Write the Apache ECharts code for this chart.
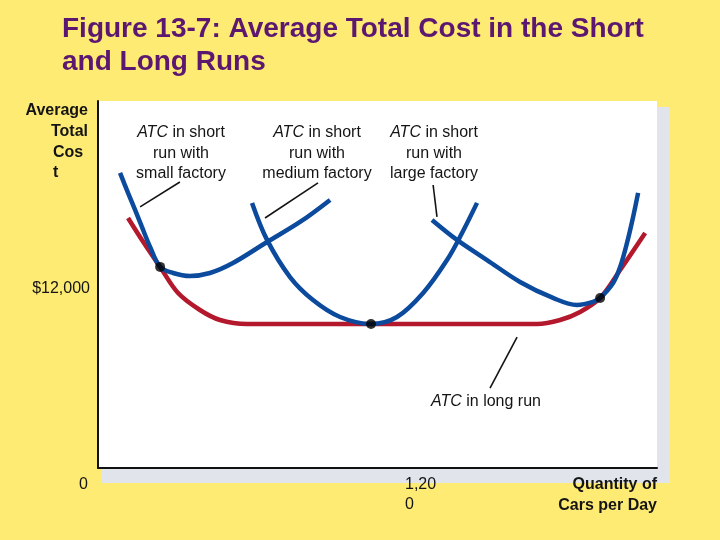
<!DOCTYPE html>
<html><head><meta charset="utf-8">
<script src="https://cdn.jsdelivr.net/npm/echarts@6/dist/echarts.min.js"></script>
<style>html,body{margin:0;padding:0;background:#feeb74}#c{width:720px;height:540px}</style>
</head><body><div id="c"></div>
<script>
const titleText = 'Figure 13-7: Average Total Cost in the Short\nand Long Runs';
const smallATC = [[97,19780],[132,18440],[163,17300],[193,16160],[229,14820],[273,13480],[330,13070],[404,12870],[492,13070],[593,13740],[743,15150],[888,16490],[1020,17970]];
const mediumATC = [[677,17770],[743,15290],[844,12800],[945,11260],[1064,10120],[1200,9650],[1314,10120],[1429,11730],[1534,13940],[1600,15750],[1666,17770]];
const largeATC = [[1468,16630],[1578,15290],[1710,13940],[1855,12470],[2000,11400],[2105,10930],[2176,11130],[2207,11400],[2264,12400],[2295,13480],[2325,15080],[2352,16830],[2374,18440]];
const longATC = [[132,16760],[202,15080],[273,13480],[352,11730],[448,10590],[536,9920],[655,9650],[1930,9650],[2031,9920],[2119,10460],[2207,11400],[2295,13270],[2405,15750]];
const tangencyPoints = [[273,13480],[1200,9650],[2207,11400]];
const leaderLines = [
  [[185,17500],[360,19170]],
  [[734,16760],[967,19110]],
  [[1473,18970],[1490,16830]],
  [[1842,8780],[1723,5360]]
];
const xTickValues = [1200];
const xTickLabels = ['1,20\n0'];
const yTickValues = [0, 12000];
const yTickLabels = ['0', '$12,000'];
const yAxisTitleLines = ['Average', 'Total', 'Cos', 't'];
const xAxisTitleLines = ['Quantity of', 'Cars per Day'];
const curveLabels = [
  '{i|ATC} in short\nrun with\nsmall factory',
  '{i|ATC} in short\nrun with\nmedium factory',
  '{i|ATC} in short\nrun with\nlarge factory',
  '{i|ATC} in long run'
];

const FF = '"Liberation Sans", Arial, Helvetica, sans-serif';
const BLUE = '#0b4a9c', RED = '#b3182c', INK = '#141414';

const chart = echarts.init(document.getElementById('c'), null, {renderer: 'canvas'});

const richI = {i: {fontStyle: 'italic', fontSize: 16, fontFamily: FF, fill: INK, lineHeight: 20.5}};
function txt(text, x, y, align, opts) {
  return {
    type: 'text', z: 10,
    style: Object.assign({
      text: text, x: x, y: y, fill: INK, fontSize: 16, fontFamily: FF,
      align: align, textAlign: align, verticalAlign: 'middle', textVerticalAlign: 'middle'
    }, opts || {})
  };
}

const yTitleX = [88, 88, 53, 53];
const yTitleAlign = ['right', 'right', 'left', 'left'];
const yTitleY = [111, 132, 153, 173];
const labelPos = [[181, 122.75], [317, 122.75], [434, 122.75], [486, 391]];

const graphics = [
  {type: 'rect', z: -2, shape: {x: 102, y: 107, width: 568, height: 376}, style: {fill: '#e1e4ea'}},
  {type: 'rect', z: -1, shape: {x: 98, y: 101, width: 559, height: 367}, style: {fill: '#ffffff'}}
];
yAxisTitleLines.forEach((t, i) => graphics.push(txt(t, yTitleX[i], yTitleY[i], yTitleAlign[i], {fontWeight: 'bold'})));
xAxisTitleLines.forEach((t, i) => graphics.push(txt(t, 657, 485 + i * 21, 'right', {fontWeight: 'bold'})));
curveLabels.forEach((t, i) => graphics.push(txt(t, labelPos[i][0], labelPos[i][1], 'center', {
  verticalAlign: 'top', textVerticalAlign: 'top', lineHeight: 20.5, rich: richI
})));

const curveSeries = (data, color) => ({
  type: 'line', data: data, smooth: 0.35, symbol: 'none', silent: true,
  lineStyle: {color: color, width: 4.5}, z: 3
});

const series = [
  curveSeries(longATC, RED),
  curveSeries(smallATC, BLUE),
  curveSeries(mediumATC, BLUE),
  curveSeries(largeATC, BLUE),
  {type: 'scatter', data: tangencyPoints, symbol: 'circle', symbolSize: 10, itemStyle: {color: '#000'}, z: 5, silent: true}
];
leaderLines.forEach(seg => series.push({
  type: 'line', data: seg, symbol: 'none', silent: true, z: 4,
  lineStyle: {color: INK, width: 1.6}
}));

chart.setOption({
  backgroundColor: '#feeb74',
  animation: false,
  title: {
    text: titleText, left: 62, top: 13, padding: 0,
    textStyle: {fontSize: 28, fontWeight: 'bold', color: '#5c1870', fontFamily: FF, lineHeight: 33}
  },
  grid: {left: 98, right: 63, top: 101, bottom: 72, show: false, containLabel: false},
  graphic: graphics,
  xAxis: {
    type: 'value', min: 0, max: 2457, interval: 1200,
    axisLine: {show: true, onZero: false, lineStyle: {color: '#111', width: 2}},
    axisTick: {show: false}, splitLine: {show: false},
    axisLabel: {
      show: true, showMaxLabel: false, margin: 7, align: 'left', verticalAlign: 'top',
      fontSize: 16, fontFamily: FF, color: INK, lineHeight: 20, padding: [0, 0, 0, 34],
      formatter: v => { const k = xTickValues.indexOf(v); return k < 0 ? '' : xTickLabels[k]; }
    }
  },
  yAxis: {
    type: 'value', min: 0, max: 24600, interval: 12000,
    axisLine: {show: true, onZero: false, lineStyle: {color: '#111', width: 2}},
    axisTick: {show: false}, splitLine: {show: false},
    axisLabel: {
      show: true, showMaxLabel: false, margin: 8, fontSize: 16, fontFamily: FF, color: INK,
      formatter: v => {
        const k = yTickValues.indexOf(v);
        if (k < 0) return '';
        return v === 0 ? '{z|' + yTickLabels[k] + '}' : '{n|' + yTickLabels[k] + '}';
      },
      rich: {
        z: {fontSize: 16, fontFamily: FF, color: INK, padding: [34, 2, 0, 0], lineHeight: 18},
        n: {fontSize: 16, fontFamily: FF, color: INK, lineHeight: 18}
      }
    }
  },
  series: series
});
</script></body></html>
